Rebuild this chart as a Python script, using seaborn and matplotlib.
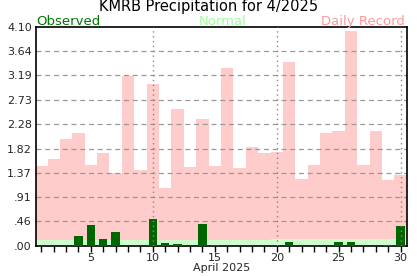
import matplotlib
matplotlib.use("Agg")
import matplotlib.pyplot as plt
import seaborn as sns
import numpy as np
import pandas as pd

days = list(range(1, 31))
record = [1.50, 1.63, 2.01, 2.11, 1.52, 1.74, 1.36, 3.18, 1.42, 3.03,
          1.08, 2.56, 1.48, 2.37, 1.50, 3.33, 1.46, 1.85, 1.74, 1.76,
          3.44, 1.25, 1.52, 2.11, 2.15, 4.02, 1.52, 2.15, 1.24, 1.33]
normal = [0.11] * 19 + [0.13] * 11
observed = [0.00, 0.00, 0.00, 0.19, 0.39, 0.13, 0.26, 0.00, 0.00, 0.50,
            0.06, 0.04, 0.00, 0.41, 0.02, 0.00, 0.00, 0.00, 0.00, 0.00,
            0.07, 0.00, 0.00, 0.00, 0.07, 0.07, 0.00, 0.00, 0.01, 0.38]
ytick_vals = [0.00, 0.46, 0.91, 1.37, 1.82, 2.28, 2.73, 3.19, 3.64, 4.10]
ytick_labels = [".00", ".46", ".91", "1.37", "1.82", "2.28", "2.73", "3.19", "3.64", "4.10"]
xtick_major = [5, 10, 15, 20, 25, 30]

df = pd.DataFrame({"day": days, "record": record, "normal": normal, "observed": observed})

sns.set_style("white")
plt.rcParams['font.family'] = ['DejaVu Sans']

fig = plt.figure(figsize=(4.17, 2.76), dpi=100)
ax = fig.add_axes([0.0863, 0.1087, 0.975 - 0.0863, 0.903 - 0.1087])

rec_color = "#ffcccc"
norm_color = "#ccffcc"
obs_color = "#006600"

sns.barplot(data=df, x="day", y="record", native_scale=True, width=1.0,
            color=rec_color, saturation=1, linewidth=0, ax=ax, zorder=1)
sns.barplot(data=df, x="day", y="normal", native_scale=True, width=1.0,
            color=norm_color, saturation=1, linewidth=0, ax=ax, zorder=2)
sns.barplot(data=df, x="day", y="observed", native_scale=True, width=0.68,
            color=obs_color, saturation=1, linewidth=0, ax=ax, zorder=3)

ax.set_xlim(0.57, 30.48)
ax.set_ylim(0, 4.10)

for v in ytick_vals[1:-1]:
    ax.axhline(v, color="#999999", linestyle=(0, (4, 3)), linewidth=0.9, zorder=2.5)
for d in [10, 20, 30]:
    ax.axvline(d, color="#888888", linestyle=(0, (1, 2.5)), linewidth=1.0, zorder=4)

ax.set_yticks(ytick_vals)
ax.set_yticklabels(ytick_labels)
ax.set_xticks(xtick_major)
ax.set_xticklabels([str(t) for t in xtick_major])
ax.set_xticks(days, minor=True)
ax.tick_params(axis="x", which="both", direction="out", length=4, width=1,
               color="black", labelsize=8, pad=1, bottom=True)
ax.tick_params(axis="y", which="both", length=0, labelsize=8, pad=3, left=False)
ax.set_xlabel("April 2025", fontsize=8, labelpad=0)
ax.set_ylabel("")

for s in ax.spines.values():
    s.set_visible(True)
    s.set_color("black")
    s.set_linewidth(1.2)

fig.text(0.5, 1 - 11.5 / 276, "KMRB Precipitation for 4/2025", ha="center", va="baseline",
         fontsize=10.5, color="black")
fig.text(0.0863, 1 - 24.5 / 276, "Observed", ha="left", va="baseline", fontsize=9.5, color="#007700")
fig.text(0.535, 1 - 24.5 / 276, "Normal", ha="center", va="baseline", fontsize=9.5, color="#99ff99")
fig.text(0.97, 1 - 24.5 / 276, "Daily Record", ha="right", va="baseline", fontsize=9.5, color="#ff9999")

fig.savefig("out.png", dpi=100)
